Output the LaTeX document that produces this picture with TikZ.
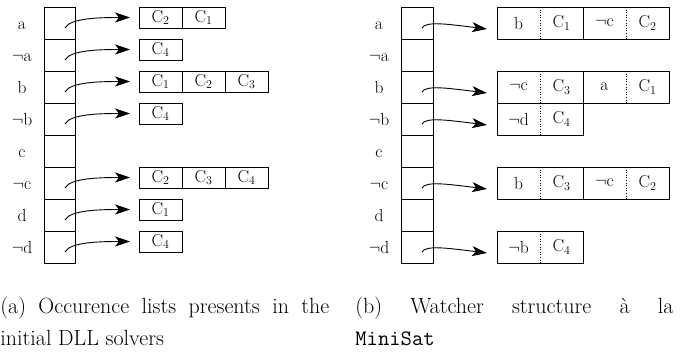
\documentclass[tikz,border=0pt]{standalone}
\usetikzlibrary{arrows.meta}
\newcommand\diagfont{\fontsize{17.5}{21}\selectfont}
\newcommand\capfont{\fontsize{22}{26}\selectfont}
\begin{document}
\begin{tikzpicture}[x=1pt, y=-1pt, line width=0.8pt,
  tcell/.style={draw, minimum width=31pt, minimum height=32pt, inner sep=0pt, outer sep=0pt},
  lab/.style={inner sep=0pt, anchor=base, font=\diagfont},
  occ/.style={draw, minimum width=43pt, minimum height=21pt, inner sep=0pt, outer sep=0pt,
              anchor=north west, font=\diagfont},
  wbox/.style={draw, minimum width=86pt, minimum height=32pt, inner sep=0pt, outer sep=0pt,
               anchor=north west},
  wtxt/.style={inner sep=0pt, font=\diagfont},
  divider/.style={dotted, line width=0.6pt},
  ptr/.style={line width=0.9pt, -{Stealth[length=15pt, width=10pt, inset=4pt]}},
  captext/.style={inner sep=0pt, anchor=base west, font=\capfont}]
\useasboundingbox (0,0) rectangle (687,356);

% one watched pair: literal | clause
\newcommand\wpair[4]{%
  \node[wbox] (W#1-#2) at (497+86*#2, 7+32*#1) {};
  \node[wtxt] (W#1-#2l) at ([xshift=-21.5pt]W#1-#2.center) {#3};
  \node[wtxt] (W#1-#2c) at ([xshift=21.5pt]W#1-#2.center) {$\mathrm{C}_{#4}$};
  \draw[divider] (W#1-#2.north) -- (W#1-#2.south);
}

% literal tables
\foreach \lit [count=\i from 0] in {a,$\neg$a,b,$\neg$b,c,$\neg$c,d,$\neg$d} {
  \node[tcell] (L\i) at (59.5, 23+32*\i) {};
  \node[lab] (La\i) at (22, 29+32*\i) {\lit};
  \node[tcell, minimum width=32pt] (R\i) at (417, 23+32*\i) {};
  \node[lab] (Ra\i) at (379, 29+32*\i) {\lit};
}

% (a) occurrence lists
\foreach \r/\list in {0/{2,1},1/{4},2/{1,2,3},3/{4},5/{2,3,4},6/{1},7/{4}} {
  \foreach \c [count=\k from 0] in \list {
    \node[occ] (O\r-\k) at (139+43*\k, 7+32*\r) {$\mathrm{C}_{\c}$};
  }
  \coordinate (ls\r) at (65, 28+32*\r);
  \coordinate (le\r) at ([xshift=-9pt]O\r-0.west);
  \draw[ptr] (ls\r) .. controls +(5,-10) and +(-30,0) .. (le\r);
}

% (b) watcher lists
\wpair{0}{0}{b}{1}
\wpair{0}{1}{$\neg$c}{2}
\wpair{2}{0}{$\neg$c}{3}
\wpair{2}{1}{a}{1}
\wpair{3}{0}{$\neg$d}{4}
\wpair{5}{0}{b}{3}
\wpair{5}{1}{$\neg$c}{2}
\wpair{7}{0}{$\neg$b}{4}

\foreach \r in {0,2,3,5,7} {
  \coordinate (ws\r) at (422, 28+32*\r);
  \coordinate (we\r) at ([shift={(-10,6)}]W\r-0.west);
  \draw[ptr] (ws\r) .. controls +(4,-7) and +(-40,-5) .. (we\r);
}

% captions
\node[captext] (capA1) at (0, 313) {\makebox[329pt][s]{(a) Occurence lists presents in the}};
\node[captext] (capA2) at (0, 345) {initial DLL solvers};
\node[captext] (capB1) at (355, 313) {\makebox[318pt][s]{(b) Watcher structure à la}};
\node[captext] (capB2) at (355, 345) {\texttt{MiniSat}};
\end{tikzpicture}
\end{document}
